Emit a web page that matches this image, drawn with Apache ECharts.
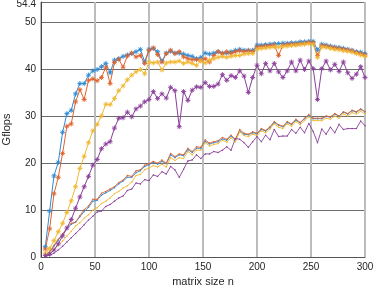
<!DOCTYPE html>
<html><head><meta charset="utf-8">
<script src="https://cdn.jsdelivr.net/npm/echarts@6/dist/echarts.min.js"></script>
<style>html,body{margin:0;padding:0;background:#fff}#c{width:374px;height:288px}</style>
</head><body><div id="c"></div>
<script>
const xN = [4,8,12,16,20,24,28,32,36,40,44,48,52,56,60,64,68,72,76,80,84,88,92,96,100,104,108,112,116,120,124,128,132,136,140,144,148,152,156,160,164,168,172,176,180,184,188,192,196,200,204,208,212,216,220,224,228,232,236,240,244,248,252,256,260,264,268,272,276,280,284,288,292,296,300];
const xTicks = [0,50,100,150,200,250,300];
const yTicks = [0,10,20,30,40,50,54.4];

const blueStar = [2.2,9.8,17.3,20.2,26.6,30.6,31.3,34.8,37.0,37.0,
 38.8,39.7,40.0,40.6,41.3,39.3,42.0,42.3,42.8,43.1,
 43.4,43.8,44.3,41.6,44.3,44.5,43.8,41.8,43.5,43.9,
 43.5,43.5,43.3,43.0,42.8,42.3,42.6,43.5,43.3,43.5,
 43.8,43.5,43.5,43.8,44.1,44.3,44.1,44.1,44.1,45.2,
 45.2,45.3,45.4,45.5,45.5,45.6,45.6,45.7,45.7,45.9,
 45.9,46.0,46.0,44.2,45.4,45.2,45.0,44.8,44.7,44.5,
 44.3,44.1,43.8,43.7,43.4];
const orangeStar = [1.7,6.0,13.5,17.0,22.1,27.9,28.4,33.1,35.7,33.6,
 37.7,38.0,37.6,38.3,40.5,37.0,41.5,42.2,40.5,42.9,
 43.5,42.7,43.0,41.3,44.1,44.6,43.2,41.6,43.4,44.1,
 43.4,43.8,42.7,42.3,42.1,42.1,42.0,42.3,41.6,43.0,
 43.8,43.4,43.8,43.4,43.8,44.0,43.8,44.0,43.8,44.8,
 44.9,45.0,45.1,45.2,43.0,45.2,45.3,45.4,45.4,45.5,
 45.6,45.8,45.7,43.0,45.1,45.0,44.8,44.6,44.5,44.3,
 44.2,44.0,43.6,43.4,43.1];
const yellowStar = [0.8,1.8,3.5,5.4,7.2,9.5,12.0,15.0,18.9,21.5,
 24.4,26.9,28.3,30.1,32.6,32.5,33.8,35.5,36.5,37.8,
 38.8,39.5,40.0,39.1,41.6,41.4,41.6,39.9,41.4,41.6,
 41.6,41.8,41.3,41.6,41.3,40.9,41.8,41.4,42.0,42.3,
 42.6,42.8,42.6,42.8,43.0,43.0,43.3,43.4,43.4,44.3,
 44.5,44.6,44.7,44.8,44.8,44.9,45.0,45.1,45.2,45.3,
 45.4,45.5,45.4,42.6,44.8,44.7,44.5,44.3,44.2,44.0,
 43.9,43.7,43.4,43.1,42.8];
const purpleStar = [0.3,0.6,1.5,2.8,4.5,6.2,8.0,10.4,12.8,15.0,
 17.2,19.6,20.8,23.1,24.1,24.6,27.5,29.6,29.7,30.9,
 29.9,31.6,32.2,33.1,33.6,35.3,33.8,34.8,33.9,36.2,
 35.5,27.8,35.3,33.4,35.6,36.3,36.2,37.2,36.4,36.4,
 36.9,38.9,37.7,38.7,38.3,39.7,38.6,35.1,38.3,40.9,
 39.1,41.3,39.7,41.3,39.5,38.3,39.7,41.6,39.7,42.0,
 40.0,41.8,40.2,33.6,40.2,41.8,39.9,41.1,39.6,41.6,
 39.3,38.1,39.0,40.6,38.3];
const blueLine = [0.3,1.1,2.3,3.6,4.8,6.0,7.0,7.4,8.6,9.7,
 10.6,11.9,12.1,13.2,13.7,14.2,14.8,15.6,16.2,17.0,
 17.0,18.0,18.4,19.3,19.7,20.2,19.8,20.4,19.9,21.8,
 21.2,21.8,21.6,22.9,22.3,23.2,23.2,24.7,24.1,24.4,
 24.6,25.2,24.9,25.8,25.0,26.9,26.2,26.1,26.5,26.3,
 27.2,26.9,27.6,28.7,28.1,27.8,28.7,28.3,29.2,28.6,
 29.5,30.2,29.5,29.5,29.5,30.0,29.8,30.5,30.0,30.9,
 30.5,31.2,30.9,31.5,31.0];
const orangeLine = [0.3,1.2,2.5,3.8,4.9,6.2,7.2,7.4,8.8,10.1,
 10.9,12.3,12.3,13.6,14.0,14.5,15.0,15.9,16.4,17.4,
 17.2,18.4,18.6,19.6,19.9,20.4,20.0,20.7,20.0,22.1,
 21.4,22.0,21.8,23.2,22.5,23.5,23.4,25.0,24.3,24.6,
 24.8,25.5,25.1,26.0,25.1,27.2,26.4,26.2,26.7,26.4,
 27.4,27.0,27.8,28.9,28.2,27.9,28.9,28.4,29.4,28.7,
 29.6,30.4,29.6,29.6,29.6,30.1,29.9,30.6,30.1,31.0,
 30.6,31.3,31.0,31.6,31.0];
const yellowLine = [0.2,0.8,1.6,2.5,3.4,4.5,5.5,6.6,7.3,8.3,
 9.0,10.0,10.5,11.4,11.9,12.6,13.5,14.0,14.7,15.2,
 16.0,17.4,17.6,18.6,19.0,19.5,19.2,19.8,19.2,21.2,
 20.6,21.2,21.0,22.5,21.8,22.8,22.8,24.4,23.7,24.0,
 24.2,24.9,24.5,25.4,24.6,26.7,25.9,25.7,26.2,25.9,
 26.9,26.5,27.3,28.4,27.7,27.4,28.4,27.9,28.9,28.2,
 29.1,29.9,29.1,29.1,29.1,29.6,29.4,30.1,29.6,30.5,
 30.1,30.8,30.5,31.1,30.5];
const purpleLine = [0.1,0.4,0.8,1.5,2.3,3.2,4.1,5.0,5.9,6.9,
 7.9,8.7,9.6,9.8,10.8,11.2,11.9,12.6,13.0,14.2,
 14.5,15.8,15.6,16.5,16.3,17.5,17.2,18.2,17.7,19.3,
 18.6,17.0,18.7,20.5,20.7,21.8,21.0,22.0,22.0,22.5,
 22.3,22.8,23.5,22.8,25.3,25.1,24.4,23.4,24.6,25.7,
 24.6,26.0,25.0,27.2,25.7,25.8,25.8,27.2,26.4,27.7,
 26.5,28.5,26.8,24.4,27.3,26.2,27.7,26.5,28.3,27.2,
 27.4,27.4,27.4,29.0,28.0];

const C = {blue:'#2c8ad4', orange:'#e0622c', yellow:'#f0b832', purple:'#8a3f9a'};
const star = 'path://M5,0L5,10M0,5L10,5M1.5,1.5L8.5,8.5M1.5,8.5L8.5,1.5';
const zip = a => xN.map((x,i)=>[x,a[i]]);
const yMax = yTicks[yTicks.length-1];

function starSeries(name, data, color){
  return {name, type:'line', data:zip(data), symbol:star, symbolSize:5, showSymbol:true,
    lineStyle:{color, width:1}, itemStyle:{color, borderColor:color, borderWidth:0.9}, animation:false, z:3};
}
function plainSeries(name, data, color){
  return {name, type:'line', data:zip(data), symbol:'circle', symbolSize:1.5, showSymbol:true,
    lineStyle:{color, width:0.9}, itemStyle:{color}, animation:false, z:2};
}

const chart = echarts.init(document.getElementById('c'), null, {renderer:'canvas'});
chart.setOption({
  animation:false,
  grid:{left:41, right:9, top:2, bottom:31, containLabel:false, outerBoundsMode:'none'},
  xAxis:{type:'value', min:xTicks[0], max:xTicks[xTicks.length-1], interval:50,
    name:'matrix size n', nameLocation:'middle', nameGap:19, nameMoveOverlap:false,
    nameTextStyle:{fontFamily:'Liberation Sans', fontSize:11, color:'#262626'},
    axisLine:{show:true, onZero:false, lineStyle:{color:'#555', width:1}},
    axisTick:{show:false},
    axisLabel:{fontFamily:'Liberation Sans', fontSize:10, color:'#262626', margin:5},
    splitLine:{show:true, lineStyle:{color:'#bdbdbd', width:2}}},
  yAxis:{type:'value', min:yTicks[0], max:yMax, interval:10,
    name:'Gflops', nameLocation:'middle', nameGap:29, nameMoveOverlap:false,
    nameTextStyle:{fontFamily:'Liberation Sans', fontSize:11, color:'#262626'},
    axisLine:{show:true, lineStyle:{color:'#444', width:1}},
    axisTick:{show:false},
    axisLabel:{fontFamily:'Liberation Sans', fontSize:10, color:'#262626', margin:5, showMaxLabel:true,
      formatter:v=> (Math.abs(v-yMax)<1e-9 ? '{m|'+v+'}' : String(v)),
      rich:{m:{fontFamily:'Liberation Sans', fontSize:10, color:'#262626', padding:[5,0,0,0]}}},
    splitLine:{show:true, lineStyle:{color:'#6e6e6e', width:1}}},
  series:[
    plainSeries('b2', blueLine, C.blue),
    plainSeries('o2', orangeLine, C.orange),
    plainSeries('y2', yellowLine, C.yellow),
    plainSeries('p2', purpleLine, C.purple),
    starSeries('b1', blueStar, C.blue),
    starSeries('o1', orangeStar, C.orange),
    starSeries('y1', yellowStar, C.yellow),
    starSeries('p1', purpleStar, C.purple)
  ]
});
</script></body></html>
